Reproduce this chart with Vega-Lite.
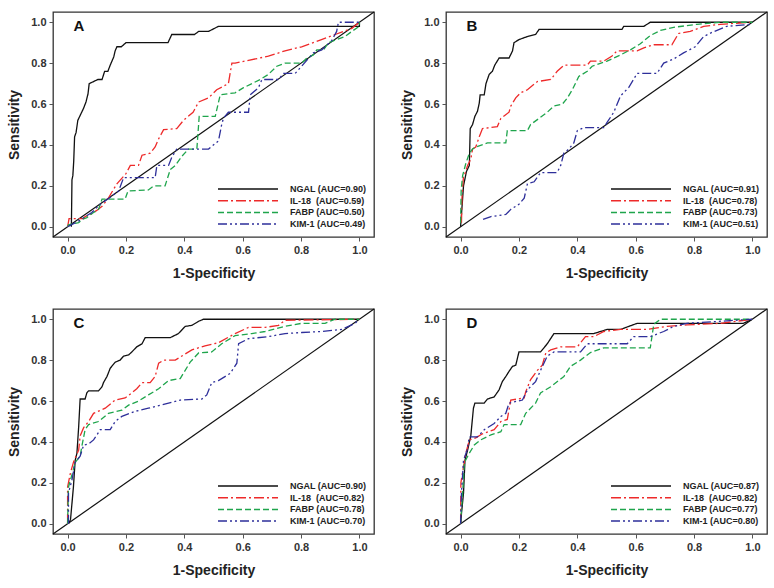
{
"$schema": "https://vega.github.io/schema/vega-lite/v6.json",
"padding": {"left": 7, "top": 10, "right": 5, "bottom": 5},
"background": "white",
"config": {
  "font": "Liberation Sans",
  "view": {"stroke": "#333", "strokeWidth": 1.3},
  "axis": {"domain": false, "grid": false, "labelFont": "Liberation Sans", "labelFontWeight": "bold", "labelFontSize": 11, "labelColor": "#333", "tickColor": "#555", "tickSize": 4, "titleFont": "Liberation Sans", "titleFontWeight": "bold", "titleFontSize": 14, "titleColor": "#222"},
  "axisX": {"titlePadding": 11, "labelPadding": 3},
  "axisY": {"titlePadding": 9, "labelPadding": 3},
  "legend": {"orient": "bottom-right", "offset": 7, "padding": 0, "title": null, "symbolType": "M-6,0H6", "symbolSize": 100, "symbolStrokeWidth": 1.5, "labelFont": "Liberation Sans", "labelFontWeight": "bold", "labelFontSize": 9, "labelColor": "#222", "labelOffset": 36, "rowPadding": 0.7}
},
"datasets": {
"A": [
{"m":"NGAL","x":0.013,"y":0},{"m":"NGAL","x":0.015,"y":0.23},{"m":"NGAL","x":0.018,"y":0.25},{"m":"NGAL","x":0.021,"y":0.32},{"m":"NGAL","x":0.024,"y":0.44},{"m":"NGAL","x":0.029,"y":0.46},{"m":"NGAL","x":0.035,"y":0.52},{"m":"NGAL","x":0.045,"y":0.55},{"m":"NGAL","x":0.055,"y":0.58},{"m":"NGAL","x":0.063,"y":0.61},{"m":"NGAL","x":0.07,"y":0.65},{"m":"NGAL","x":0.074,"y":0.7},{"m":"NGAL","x":0.089,"y":0.71},{"m":"NGAL","x":0.104,"y":0.72},{"m":"NGAL","x":0.118,"y":0.72},{"m":"NGAL","x":0.127,"y":0.76},{"m":"NGAL","x":0.138,"y":0.76},{"m":"NGAL","x":0.146,"y":0.79},{"m":"NGAL","x":0.158,"y":0.83},{"m":"NGAL","x":0.163,"y":0.86},{"m":"NGAL","x":0.169,"y":0.88},{"m":"NGAL","x":0.184,"y":0.88},{"m":"NGAL","x":0.2,"y":0.9},{"m":"NGAL","x":0.344,"y":0.9},{"m":"NGAL","x":0.357,"y":0.94},{"m":"NGAL","x":0.435,"y":0.94},{"m":"NGAL","x":0.449,"y":0.955},{"m":"NGAL","x":0.483,"y":0.955},{"m":"NGAL","x":0.517,"y":0.98},{"m":"NGAL","x":1,"y":0.98},{"m":"NGAL","x":1,"y":1},
{"m":"IL-18","x":0,"y":0},{"m":"IL-18","x":0.005,"y":0.04},{"m":"IL-18","x":0.055,"y":0.04},{"m":"IL-18","x":0.06,"y":0.05},{"m":"IL-18","x":0.078,"y":0.06},{"m":"IL-18","x":0.1,"y":0.08},{"m":"IL-18","x":0.118,"y":0.1},{"m":"IL-18","x":0.14,"y":0.14},{"m":"IL-18","x":0.152,"y":0.17},{"m":"IL-18","x":0.169,"y":0.21},{"m":"IL-18","x":0.2,"y":0.26},{"m":"IL-18","x":0.215,"y":0.3},{"m":"IL-18","x":0.243,"y":0.3},{"m":"IL-18","x":0.255,"y":0.35},{"m":"IL-18","x":0.283,"y":0.36},{"m":"IL-18","x":0.3,"y":0.39},{"m":"IL-18","x":0.312,"y":0.43},{"m":"IL-18","x":0.329,"y":0.475},{"m":"IL-18","x":0.374,"y":0.48},{"m":"IL-18","x":0.397,"y":0.52},{"m":"IL-18","x":0.43,"y":0.56},{"m":"IL-18","x":0.449,"y":0.61},{"m":"IL-18","x":0.483,"y":0.63},{"m":"IL-18","x":0.511,"y":0.67},{"m":"IL-18","x":0.551,"y":0.7},{"m":"IL-18","x":0.563,"y":0.8},{"m":"IL-18","x":0.574,"y":0.8},{"m":"IL-18","x":0.688,"y":0.834},{"m":"IL-18","x":0.745,"y":0.86},{"m":"IL-18","x":0.802,"y":0.88},{"m":"IL-18","x":0.87,"y":0.915},{"m":"IL-18","x":0.917,"y":0.94},{"m":"IL-18","x":0.974,"y":0.97},{"m":"IL-18","x":1,"y":1},
{"m":"FABP","x":0,"y":0},{"m":"FABP","x":0.003,"y":0.01},{"m":"FABP","x":0.038,"y":0.02},{"m":"FABP","x":0.049,"y":0.035},{"m":"FABP","x":0.066,"y":0.045},{"m":"FABP","x":0.089,"y":0.07},{"m":"FABP","x":0.106,"y":0.085},{"m":"FABP","x":0.118,"y":0.135},{"m":"FABP","x":0.197,"y":0.135},{"m":"FABP","x":0.207,"y":0.175},{"m":"FABP","x":0.277,"y":0.18},{"m":"FABP","x":0.295,"y":0.2},{"m":"FABP","x":0.334,"y":0.2},{"m":"FABP","x":0.352,"y":0.28},{"m":"FABP","x":0.369,"y":0.3},{"m":"FABP","x":0.392,"y":0.345},{"m":"FABP","x":0.414,"y":0.38},{"m":"FABP","x":0.443,"y":0.38},{"m":"FABP","x":0.451,"y":0.54},{"m":"FABP","x":0.506,"y":0.54},{"m":"FABP","x":0.523,"y":0.645},{"m":"FABP","x":0.574,"y":0.655},{"m":"FABP","x":0.603,"y":0.68},{"m":"FABP","x":0.66,"y":0.72},{"m":"FABP","x":0.688,"y":0.745},{"m":"FABP","x":0.717,"y":0.785},{"m":"FABP","x":0.745,"y":0.8},{"m":"FABP","x":0.802,"y":0.8},{"m":"FABP","x":0.82,"y":0.825},{"m":"FABP","x":0.842,"y":0.84},{"m":"FABP","x":0.854,"y":0.865},{"m":"FABP","x":0.877,"y":0.865},{"m":"FABP","x":0.894,"y":0.9},{"m":"FABP","x":0.95,"y":0.93},{"m":"FABP","x":0.974,"y":0.955},{"m":"FABP","x":1,"y":0.98},{"m":"FABP","x":1,"y":1},
{"m":"KIM-1","x":0,"y":0},{"m":"KIM-1","x":0.04,"y":0.03},{"m":"KIM-1","x":0.083,"y":0.07},{"m":"KIM-1","x":0.112,"y":0.11},{"m":"KIM-1","x":0.152,"y":0.15},{"m":"KIM-1","x":0.175,"y":0.175},{"m":"KIM-1","x":0.192,"y":0.24},{"m":"KIM-1","x":0.3,"y":0.24},{"m":"KIM-1","x":0.306,"y":0.3},{"m":"KIM-1","x":0.346,"y":0.3},{"m":"KIM-1","x":0.357,"y":0.34},{"m":"KIM-1","x":0.374,"y":0.38},{"m":"KIM-1","x":0.483,"y":0.38},{"m":"KIM-1","x":0.517,"y":0.42},{"m":"KIM-1","x":0.528,"y":0.5},{"m":"KIM-1","x":0.534,"y":0.53},{"m":"KIM-1","x":0.551,"y":0.56},{"m":"KIM-1","x":0.62,"y":0.56},{"m":"KIM-1","x":0.626,"y":0.645},{"m":"KIM-1","x":0.654,"y":0.68},{"m":"KIM-1","x":0.666,"y":0.72},{"m":"KIM-1","x":0.723,"y":0.72},{"m":"KIM-1","x":0.74,"y":0.75},{"m":"KIM-1","x":0.78,"y":0.75},{"m":"KIM-1","x":0.802,"y":0.785},{"m":"KIM-1","x":0.842,"y":0.85},{"m":"KIM-1","x":0.871,"y":0.865},{"m":"KIM-1","x":0.905,"y":0.91},{"m":"KIM-1","x":0.922,"y":0.955},{"m":"KIM-1","x":0.928,"y":1},{"m":"KIM-1","x":1,"y":1}
],
"B": [
{"m":"NGAL","x":0,"y":0},{"m":"NGAL","x":0.005,"y":0.1},{"m":"NGAL","x":0.01,"y":0.2},{"m":"NGAL","x":0.02,"y":0.27},{"m":"NGAL","x":0.03,"y":0.3},{"m":"NGAL","x":0.033,"y":0.48},{"m":"NGAL","x":0.041,"y":0.5},{"m":"NGAL","x":0.049,"y":0.54},{"m":"NGAL","x":0.058,"y":0.565},{"m":"NGAL","x":0.064,"y":0.605},{"m":"NGAL","x":0.067,"y":0.645},{"m":"NGAL","x":0.081,"y":0.645},{"m":"NGAL","x":0.087,"y":0.7},{"m":"NGAL","x":0.098,"y":0.745},{"m":"NGAL","x":0.109,"y":0.76},{"m":"NGAL","x":0.117,"y":0.79},{"m":"NGAL","x":0.132,"y":0.825},{"m":"NGAL","x":0.166,"y":0.825},{"m":"NGAL","x":0.178,"y":0.86},{"m":"NGAL","x":0.183,"y":0.9},{"m":"NGAL","x":0.2,"y":0.915},{"m":"NGAL","x":0.229,"y":0.93},{"m":"NGAL","x":0.257,"y":0.94},{"m":"NGAL","x":0.269,"y":0.965},{"m":"NGAL","x":0.553,"y":0.965},{"m":"NGAL","x":0.559,"y":0.98},{"m":"NGAL","x":0.628,"y":0.98},{"m":"NGAL","x":0.65,"y":1},{"m":"NGAL","x":1,"y":1},
{"m":"IL-18","x":0.003,"y":0.02},{"m":"IL-18","x":0.005,"y":0.15},{"m":"IL-18","x":0.01,"y":0.25},{"m":"IL-18","x":0.015,"y":0.26},{"m":"IL-18","x":0.024,"y":0.3},{"m":"IL-18","x":0.035,"y":0.33},{"m":"IL-18","x":0.041,"y":0.38},{"m":"IL-18","x":0.052,"y":0.39},{"m":"IL-18","x":0.064,"y":0.44},{"m":"IL-18","x":0.075,"y":0.48},{"m":"IL-18","x":0.126,"y":0.49},{"m":"IL-18","x":0.138,"y":0.53},{"m":"IL-18","x":0.166,"y":0.56},{"m":"IL-18","x":0.172,"y":0.59},{"m":"IL-18","x":0.189,"y":0.63},{"m":"IL-18","x":0.206,"y":0.655},{"m":"IL-18","x":0.229,"y":0.67},{"m":"IL-18","x":0.263,"y":0.71},{"m":"IL-18","x":0.309,"y":0.72},{"m":"IL-18","x":0.331,"y":0.76},{"m":"IL-18","x":0.354,"y":0.79},{"m":"IL-18","x":0.434,"y":0.79},{"m":"IL-18","x":0.445,"y":0.81},{"m":"IL-18","x":0.491,"y":0.81},{"m":"IL-18","x":0.519,"y":0.835},{"m":"IL-18","x":0.536,"y":0.86},{"m":"IL-18","x":0.605,"y":0.86},{"m":"IL-18","x":0.628,"y":0.875},{"m":"IL-18","x":0.662,"y":0.89},{"m":"IL-18","x":0.724,"y":0.89},{"m":"IL-18","x":0.747,"y":0.945},{"m":"IL-18","x":0.787,"y":0.955},{"m":"IL-18","x":0.833,"y":0.98},{"m":"IL-18","x":0.89,"y":0.99},{"m":"IL-18","x":1,"y":1},
{"m":"FABP","x":0,"y":0.02},{"m":"FABP","x":0.002,"y":0.18},{"m":"FABP","x":0.007,"y":0.25},{"m":"FABP","x":0.018,"y":0.31},{"m":"FABP","x":0.03,"y":0.36},{"m":"FABP","x":0.041,"y":0.38},{"m":"FABP","x":0.052,"y":0.39},{"m":"FABP","x":0.092,"y":0.41},{"m":"FABP","x":0.155,"y":0.41},{"m":"FABP","x":0.16,"y":0.47},{"m":"FABP","x":0.229,"y":0.47},{"m":"FABP","x":0.24,"y":0.5},{"m":"FABP","x":0.269,"y":0.53},{"m":"FABP","x":0.297,"y":0.56},{"m":"FABP","x":0.32,"y":0.59},{"m":"FABP","x":0.349,"y":0.6},{"m":"FABP","x":0.366,"y":0.63},{"m":"FABP","x":0.383,"y":0.67},{"m":"FABP","x":0.405,"y":0.735},{"m":"FABP","x":0.434,"y":0.76},{"m":"FABP","x":0.451,"y":0.785},{"m":"FABP","x":0.502,"y":0.81},{"m":"FABP","x":0.548,"y":0.84},{"m":"FABP","x":0.582,"y":0.865},{"m":"FABP","x":0.616,"y":0.895},{"m":"FABP","x":0.65,"y":0.935},{"m":"FABP","x":0.685,"y":0.96},{"m":"FABP","x":0.73,"y":0.975},{"m":"FABP","x":0.81,"y":0.99},{"m":"FABP","x":0.89,"y":1},{"m":"FABP","x":1,"y":1},
{"m":"KIM-1","x":0.077,"y":0.036},{"m":"KIM-1","x":0.104,"y":0.05},{"m":"KIM-1","x":0.155,"y":0.06},{"m":"KIM-1","x":0.172,"y":0.085},{"m":"KIM-1","x":0.2,"y":0.11},{"m":"KIM-1","x":0.218,"y":0.14},{"m":"KIM-1","x":0.229,"y":0.21},{"m":"KIM-1","x":0.252,"y":0.22},{"m":"KIM-1","x":0.274,"y":0.265},{"m":"KIM-1","x":0.331,"y":0.265},{"m":"KIM-1","x":0.343,"y":0.3},{"m":"KIM-1","x":0.354,"y":0.36},{"m":"KIM-1","x":0.371,"y":0.38},{"m":"KIM-1","x":0.388,"y":0.41},{"m":"KIM-1","x":0.4,"y":0.47},{"m":"KIM-1","x":0.423,"y":0.485},{"m":"KIM-1","x":0.491,"y":0.485},{"m":"KIM-1","x":0.502,"y":0.51},{"m":"KIM-1","x":0.525,"y":0.56},{"m":"KIM-1","x":0.548,"y":0.64},{"m":"KIM-1","x":0.576,"y":0.68},{"m":"KIM-1","x":0.605,"y":0.75},{"m":"KIM-1","x":0.673,"y":0.75},{"m":"KIM-1","x":0.696,"y":0.8},{"m":"KIM-1","x":0.73,"y":0.82},{"m":"KIM-1","x":0.764,"y":0.85},{"m":"KIM-1","x":0.804,"y":0.88},{"m":"KIM-1","x":0.833,"y":0.93},{"m":"KIM-1","x":0.861,"y":0.95},{"m":"KIM-1","x":0.912,"y":0.98},{"m":"KIM-1","x":1,"y":0.99}
],
"C": [
{"m":"NGAL","x":0.003,"y":0},{"m":"NGAL","x":0.01,"y":0.02},{"m":"NGAL","x":0.015,"y":0.1},{"m":"NGAL","x":0.02,"y":0.18},{"m":"NGAL","x":0.026,"y":0.31},{"m":"NGAL","x":0.032,"y":0.345},{"m":"NGAL","x":0.038,"y":0.475},{"m":"NGAL","x":0.043,"y":0.61},{"m":"NGAL","x":0.06,"y":0.61},{"m":"NGAL","x":0.066,"y":0.64},{"m":"NGAL","x":0.072,"y":0.65},{"m":"NGAL","x":0.106,"y":0.65},{"m":"NGAL","x":0.118,"y":0.67},{"m":"NGAL","x":0.123,"y":0.69},{"m":"NGAL","x":0.135,"y":0.72},{"m":"NGAL","x":0.146,"y":0.76},{"m":"NGAL","x":0.163,"y":0.79},{"m":"NGAL","x":0.18,"y":0.8},{"m":"NGAL","x":0.192,"y":0.82},{"m":"NGAL","x":0.209,"y":0.825},{"m":"NGAL","x":0.22,"y":0.84},{"m":"NGAL","x":0.237,"y":0.865},{"m":"NGAL","x":0.255,"y":0.88},{"m":"NGAL","x":0.266,"y":0.91},{"m":"NGAL","x":0.352,"y":0.91},{"m":"NGAL","x":0.38,"y":0.93},{"m":"NGAL","x":0.403,"y":0.965},{"m":"NGAL","x":0.426,"y":0.97},{"m":"NGAL","x":0.449,"y":0.99},{"m":"NGAL","x":0.466,"y":1},{"m":"NGAL","x":1,"y":1},
{"m":"IL-18","x":0,"y":0},{"m":"IL-18","x":0,"y":0.18},{"m":"IL-18","x":0.01,"y":0.25},{"m":"IL-18","x":0.021,"y":0.305},{"m":"IL-18","x":0.038,"y":0.36},{"m":"IL-18","x":0.043,"y":0.43},{"m":"IL-18","x":0.055,"y":0.47},{"m":"IL-18","x":0.072,"y":0.5},{"m":"IL-18","x":0.089,"y":0.54},{"m":"IL-18","x":0.129,"y":0.565},{"m":"IL-18","x":0.163,"y":0.605},{"m":"IL-18","x":0.197,"y":0.615},{"m":"IL-18","x":0.22,"y":0.64},{"m":"IL-18","x":0.237,"y":0.66},{"m":"IL-18","x":0.255,"y":0.69},{"m":"IL-18","x":0.283,"y":0.69},{"m":"IL-18","x":0.3,"y":0.72},{"m":"IL-18","x":0.312,"y":0.785},{"m":"IL-18","x":0.329,"y":0.8},{"m":"IL-18","x":0.369,"y":0.8},{"m":"IL-18","x":0.397,"y":0.825},{"m":"IL-18","x":0.426,"y":0.85},{"m":"IL-18","x":0.471,"y":0.87},{"m":"IL-18","x":0.517,"y":0.885},{"m":"IL-18","x":0.574,"y":0.93},{"m":"IL-18","x":0.62,"y":0.96},{"m":"IL-18","x":0.677,"y":0.96},{"m":"IL-18","x":0.723,"y":0.97},{"m":"IL-18","x":0.745,"y":0.995},{"m":"IL-18","x":1,"y":1},
{"m":"FABP","x":0,"y":0},{"m":"FABP","x":0.003,"y":0.18},{"m":"FABP","x":0.015,"y":0.24},{"m":"FABP","x":0.026,"y":0.3},{"m":"FABP","x":0.043,"y":0.33},{"m":"FABP","x":0.049,"y":0.38},{"m":"FABP","x":0.06,"y":0.46},{"m":"FABP","x":0.072,"y":0.485},{"m":"FABP","x":0.106,"y":0.5},{"m":"FABP","x":0.14,"y":0.54},{"m":"FABP","x":0.186,"y":0.555},{"m":"FABP","x":0.209,"y":0.58},{"m":"FABP","x":0.243,"y":0.6},{"m":"FABP","x":0.277,"y":0.63},{"m":"FABP","x":0.312,"y":0.66},{"m":"FABP","x":0.346,"y":0.7},{"m":"FABP","x":0.386,"y":0.71},{"m":"FABP","x":0.403,"y":0.75},{"m":"FABP","x":0.42,"y":0.79},{"m":"FABP","x":0.449,"y":0.835},{"m":"FABP","x":0.494,"y":0.84},{"m":"FABP","x":0.528,"y":0.88},{"m":"FABP","x":0.574,"y":0.92},{"m":"FABP","x":0.631,"y":0.93},{"m":"FABP","x":0.677,"y":0.94},{"m":"FABP","x":0.745,"y":0.965},{"m":"FABP","x":0.802,"y":0.98},{"m":"FABP","x":0.882,"y":0.98},{"m":"FABP","x":0.917,"y":1},{"m":"FABP","x":1,"y":1},
{"m":"KIM-1","x":0.003,"y":0},{"m":"KIM-1","x":0.003,"y":0.15},{"m":"KIM-1","x":0.015,"y":0.215},{"m":"KIM-1","x":0.026,"y":0.3},{"m":"KIM-1","x":0.043,"y":0.33},{"m":"KIM-1","x":0.055,"y":0.385},{"m":"KIM-1","x":0.072,"y":0.39},{"m":"KIM-1","x":0.089,"y":0.41},{"m":"KIM-1","x":0.112,"y":0.46},{"m":"KIM-1","x":0.146,"y":0.46},{"m":"KIM-1","x":0.163,"y":0.5},{"m":"KIM-1","x":0.186,"y":0.525},{"m":"KIM-1","x":0.232,"y":0.55},{"m":"KIM-1","x":0.277,"y":0.565},{"m":"KIM-1","x":0.346,"y":0.59},{"m":"KIM-1","x":0.386,"y":0.605},{"m":"KIM-1","x":0.46,"y":0.61},{"m":"KIM-1","x":0.477,"y":0.63},{"m":"KIM-1","x":0.494,"y":0.69},{"m":"KIM-1","x":0.517,"y":0.7},{"m":"KIM-1","x":0.557,"y":0.735},{"m":"KIM-1","x":0.58,"y":0.785},{"m":"KIM-1","x":0.586,"y":0.88},{"m":"KIM-1","x":0.62,"y":0.905},{"m":"KIM-1","x":0.688,"y":0.915},{"m":"KIM-1","x":0.745,"y":0.93},{"m":"KIM-1","x":0.802,"y":0.935},{"m":"KIM-1","x":0.871,"y":0.94},{"m":"KIM-1","x":0.94,"y":0.95},{"m":"KIM-1","x":0.985,"y":0.98},{"m":"KIM-1","x":1,"y":1}
],
"D": [
{"m":"NGAL","x":0.001,"y":0},{"m":"NGAL","x":0.003,"y":0.05},{"m":"NGAL","x":0.01,"y":0.15},{"m":"NGAL","x":0.015,"y":0.31},{"m":"NGAL","x":0.024,"y":0.36},{"m":"NGAL","x":0.035,"y":0.43},{"m":"NGAL","x":0.044,"y":0.565},{"m":"NGAL","x":0.049,"y":0.59},{"m":"NGAL","x":0.081,"y":0.59},{"m":"NGAL","x":0.092,"y":0.61},{"m":"NGAL","x":0.115,"y":0.62},{"m":"NGAL","x":0.132,"y":0.655},{"m":"NGAL","x":0.143,"y":0.695},{"m":"NGAL","x":0.155,"y":0.72},{"m":"NGAL","x":0.166,"y":0.745},{"m":"NGAL","x":0.178,"y":0.77},{"m":"NGAL","x":0.189,"y":0.775},{"m":"NGAL","x":0.2,"y":0.84},{"m":"NGAL","x":0.274,"y":0.84},{"m":"NGAL","x":0.297,"y":0.88},{"m":"NGAL","x":0.32,"y":0.93},{"m":"NGAL","x":0.457,"y":0.93},{"m":"NGAL","x":0.502,"y":0.95},{"m":"NGAL","x":0.548,"y":0.95},{"m":"NGAL","x":0.605,"y":0.98},{"m":"NGAL","x":0.969,"y":0.98},{"m":"NGAL","x":1,"y":1},
{"m":"IL-18","x":0,"y":0},{"m":"IL-18","x":0.001,"y":0.2},{"m":"IL-18","x":0.01,"y":0.28},{"m":"IL-18","x":0.018,"y":0.345},{"m":"IL-18","x":0.03,"y":0.41},{"m":"IL-18","x":0.052,"y":0.42},{"m":"IL-18","x":0.075,"y":0.44},{"m":"IL-18","x":0.115,"y":0.46},{"m":"IL-18","x":0.138,"y":0.5},{"m":"IL-18","x":0.16,"y":0.51},{"m":"IL-18","x":0.172,"y":0.605},{"m":"IL-18","x":0.218,"y":0.615},{"m":"IL-18","x":0.223,"y":0.645},{"m":"IL-18","x":0.24,"y":0.705},{"m":"IL-18","x":0.263,"y":0.75},{"m":"IL-18","x":0.28,"y":0.775},{"m":"IL-18","x":0.292,"y":0.835},{"m":"IL-18","x":0.309,"y":0.85},{"m":"IL-18","x":0.343,"y":0.865},{"m":"IL-18","x":0.4,"y":0.865},{"m":"IL-18","x":0.428,"y":0.915},{"m":"IL-18","x":0.457,"y":0.915},{"m":"IL-18","x":0.491,"y":0.94},{"m":"IL-18","x":0.548,"y":0.95},{"m":"IL-18","x":0.639,"y":0.95},{"m":"IL-18","x":0.707,"y":0.965},{"m":"IL-18","x":0.776,"y":0.972},{"m":"IL-18","x":0.89,"y":0.98},{"m":"IL-18","x":1,"y":1},
{"m":"FABP","x":0,"y":0},{"m":"FABP","x":0.007,"y":0.15},{"m":"FABP","x":0.013,"y":0.3},{"m":"FABP","x":0.03,"y":0.345},{"m":"FABP","x":0.047,"y":0.385},{"m":"FABP","x":0.069,"y":0.41},{"m":"FABP","x":0.104,"y":0.435},{"m":"FABP","x":0.138,"y":0.45},{"m":"FABP","x":0.149,"y":0.485},{"m":"FABP","x":0.206,"y":0.485},{"m":"FABP","x":0.223,"y":0.54},{"m":"FABP","x":0.257,"y":0.59},{"m":"FABP","x":0.274,"y":0.64},{"m":"FABP","x":0.309,"y":0.67},{"m":"FABP","x":0.354,"y":0.72},{"m":"FABP","x":0.377,"y":0.77},{"m":"FABP","x":0.411,"y":0.8},{"m":"FABP","x":0.445,"y":0.837},{"m":"FABP","x":0.491,"y":0.86},{"m":"FABP","x":0.65,"y":0.86},{"m":"FABP","x":0.662,"y":0.975},{"m":"FABP","x":0.685,"y":1},{"m":"FABP","x":1,"y":1},
{"m":"KIM-1","x":0,"y":0},{"m":"KIM-1","x":0.003,"y":0.15},{"m":"KIM-1","x":0.01,"y":0.31},{"m":"KIM-1","x":0.022,"y":0.36},{"m":"KIM-1","x":0.03,"y":0.425},{"m":"KIM-1","x":0.058,"y":0.425},{"m":"KIM-1","x":0.081,"y":0.46},{"m":"KIM-1","x":0.115,"y":0.49},{"m":"KIM-1","x":0.138,"y":0.525},{"m":"KIM-1","x":0.155,"y":0.54},{"m":"KIM-1","x":0.166,"y":0.59},{"m":"KIM-1","x":0.212,"y":0.605},{"m":"KIM-1","x":0.229,"y":0.655},{"m":"KIM-1","x":0.257,"y":0.695},{"m":"KIM-1","x":0.274,"y":0.75},{"m":"KIM-1","x":0.297,"y":0.82},{"m":"KIM-1","x":0.32,"y":0.84},{"m":"KIM-1","x":0.411,"y":0.84},{"m":"KIM-1","x":0.434,"y":0.88},{"m":"KIM-1","x":0.571,"y":0.88},{"m":"KIM-1","x":0.593,"y":0.915},{"m":"KIM-1","x":0.65,"y":0.915},{"m":"KIM-1","x":0.696,"y":0.94},{"m":"KIM-1","x":0.73,"y":0.965},{"m":"KIM-1","x":0.776,"y":0.98},{"m":"KIM-1","x":0.89,"y":0.99},{"m":"KIM-1","x":1,"y":1}
]
},
"columns": 2,
"bounds": "flush",
"spacing": {"row": 72, "column": 72},
"resolve": {"scale": {"color": "independent", "strokeDash": "independent"}, "legend": {"color": "independent", "strokeDash": "independent"}},
"concat": [
{"width": 321, "height": 225,
 "layer": [
  {"data": {"values": [{}]}, "mark": {"type": "rule", "color": "#111", "strokeWidth": 1.2}, "encoding": {"x": {"datum": -0.05, "type": "quantitative", "scale": {"domain": [-0.05, 1.05], "nice": false, "zero": false}}, "y": {"datum": -0.05, "type": "quantitative", "scale": {"domain": [-0.05, 1.05], "nice": false, "zero": false}}, "x2": {"datum": 1.05}, "y2": {"datum": 1.05}}},
  {"data": {"name": "A"}, "mark": {"type": "line", "strokeWidth": 1.3, "clip": true},
   "encoding": {
    "x": {"field": "x", "type": "quantitative", "title": "1-Specificity", "axis": {"values": [0, 0.2, 0.4, 0.6, 0.8, 1.0], "format": ".1f"}},
    "y": {"field": "y", "type": "quantitative", "title": "Sensitivity", "axis": {"values": [0, 0.2, 0.4, 0.6, 0.8, 1.0], "format": ".1f"}},
    "color": {"field": "m", "type": "nominal", "scale": {"domain": ["NGAL", "IL-18", "FABP", "KIM-1"], "range": ["#111111", "#ee2a2a", "#1fa54c", "#2e2f9a"]}, "legend": {"labelExpr": "datum.label == 'NGAL' ? 'NGAL (AUC=0.90)' : datum.label == 'IL-18' ? 'IL-18\u00a0 (AUC=0.59)' : datum.label == 'FABP' ? 'FABP (AUC=0.50)' : 'KIM-1 (AUC=0.49)'"}},
    "strokeDash": {"field": "m", "type": "nominal", "scale": {"domain": ["NGAL", "IL-18", "FABP", "KIM-1"], "range": [[1, 0], [10, 3, 2, 3], [6, 3], [9, 3, 2, 3, 2, 3]]}, "legend": {"labelExpr": "datum.label == 'NGAL' ? 'NGAL (AUC=0.90)' : datum.label == 'IL-18' ? 'IL-18\u00a0 (AUC=0.59)' : datum.label == 'FABP' ? 'FABP (AUC=0.50)' : 'KIM-1 (AUC=0.49)'"}},
    "order": {"value": null}}},
  {"data": {"values": [{}]}, "mark": {"type": "text", "fontSize": 15, "fontWeight": "bold", "align": "left", "baseline": "middle", "color": "#111"}, "encoding": {"x": {"datum": 0.02}, "y": {"datum": 0.98}, "text": {"value": "A"}}}
 ]},
{"width": 321, "height": 225,
 "layer": [
  {"data": {"values": [{}]}, "mark": {"type": "rule", "color": "#111", "strokeWidth": 1.2}, "encoding": {"x": {"datum": -0.05, "type": "quantitative", "scale": {"domain": [-0.05, 1.05], "nice": false, "zero": false}}, "y": {"datum": -0.05, "type": "quantitative", "scale": {"domain": [-0.05, 1.05], "nice": false, "zero": false}}, "x2": {"datum": 1.05}, "y2": {"datum": 1.05}}},
  {"data": {"name": "B"}, "mark": {"type": "line", "strokeWidth": 1.3, "clip": true},
   "encoding": {
    "x": {"field": "x", "type": "quantitative", "title": "1-Specificity", "axis": {"values": [0, 0.2, 0.4, 0.6, 0.8, 1.0], "format": ".1f"}},
    "y": {"field": "y", "type": "quantitative", "title": "Sensitivity", "axis": {"values": [0, 0.2, 0.4, 0.6, 0.8, 1.0], "format": ".1f"}},
    "color": {"field": "m", "type": "nominal", "scale": {"domain": ["NGAL", "IL-18", "FABP", "KIM-1"], "range": ["#111111", "#ee2a2a", "#1fa54c", "#2e2f9a"]}, "legend": {"labelExpr": "datum.label == 'NGAL' ? 'NGAL (AUC=0.91)' : datum.label == 'IL-18' ? 'IL-18\u00a0 (AUC=0.78)' : datum.label == 'FABP' ? 'FABP (AUC=0.73)' : 'KIM-1 (AUC=0.51)'"}},
    "strokeDash": {"field": "m", "type": "nominal", "scale": {"domain": ["NGAL", "IL-18", "FABP", "KIM-1"], "range": [[1, 0], [10, 3, 2, 3], [6, 3], [9, 3, 2, 3, 2, 3]]}, "legend": {"labelExpr": "datum.label == 'NGAL' ? 'NGAL (AUC=0.91)' : datum.label == 'IL-18' ? 'IL-18\u00a0 (AUC=0.78)' : datum.label == 'FABP' ? 'FABP (AUC=0.73)' : 'KIM-1 (AUC=0.51)'"}},
    "order": {"value": null}}},
  {"data": {"values": [{}]}, "mark": {"type": "text", "fontSize": 15, "fontWeight": "bold", "align": "left", "baseline": "middle", "color": "#111"}, "encoding": {"x": {"datum": 0.02}, "y": {"datum": 0.98}, "text": {"value": "B"}}}
 ]},
{"width": 321, "height": 225,
 "layer": [
  {"data": {"values": [{}]}, "mark": {"type": "rule", "color": "#111", "strokeWidth": 1.2}, "encoding": {"x": {"datum": -0.05, "type": "quantitative", "scale": {"domain": [-0.05, 1.05], "nice": false, "zero": false}}, "y": {"datum": -0.05, "type": "quantitative", "scale": {"domain": [-0.05, 1.05], "nice": false, "zero": false}}, "x2": {"datum": 1.05}, "y2": {"datum": 1.05}}},
  {"data": {"name": "C"}, "mark": {"type": "line", "strokeWidth": 1.3, "clip": true},
   "encoding": {
    "x": {"field": "x", "type": "quantitative", "title": "1-Specificity", "axis": {"values": [0, 0.2, 0.4, 0.6, 0.8, 1.0], "format": ".1f"}},
    "y": {"field": "y", "type": "quantitative", "title": "Sensitivity", "axis": {"values": [0, 0.2, 0.4, 0.6, 0.8, 1.0], "format": ".1f"}},
    "color": {"field": "m", "type": "nominal", "scale": {"domain": ["NGAL", "IL-18", "FABP", "KIM-1"], "range": ["#111111", "#ee2a2a", "#1fa54c", "#2e2f9a"]}, "legend": {"labelExpr": "datum.label == 'NGAL' ? 'NGAL (AUC=0.90)' : datum.label == 'IL-18' ? 'IL-18\u00a0 (AUC=0.82)' : datum.label == 'FABP' ? 'FABP (AUC=0.78)' : 'KIM-1 (AUC=0.70)'"}},
    "strokeDash": {"field": "m", "type": "nominal", "scale": {"domain": ["NGAL", "IL-18", "FABP", "KIM-1"], "range": [[1, 0], [10, 3, 2, 3], [6, 3], [9, 3, 2, 3, 2, 3]]}, "legend": {"labelExpr": "datum.label == 'NGAL' ? 'NGAL (AUC=0.90)' : datum.label == 'IL-18' ? 'IL-18\u00a0 (AUC=0.82)' : datum.label == 'FABP' ? 'FABP (AUC=0.78)' : 'KIM-1 (AUC=0.70)'"}},
    "order": {"value": null}}},
  {"data": {"values": [{}]}, "mark": {"type": "text", "fontSize": 15, "fontWeight": "bold", "align": "left", "baseline": "middle", "color": "#111"}, "encoding": {"x": {"datum": 0.02}, "y": {"datum": 0.98}, "text": {"value": "C"}}}
 ]},
{"width": 321, "height": 225,
 "layer": [
  {"data": {"values": [{}]}, "mark": {"type": "rule", "color": "#111", "strokeWidth": 1.2}, "encoding": {"x": {"datum": -0.05, "type": "quantitative", "scale": {"domain": [-0.05, 1.05], "nice": false, "zero": false}}, "y": {"datum": -0.05, "type": "quantitative", "scale": {"domain": [-0.05, 1.05], "nice": false, "zero": false}}, "x2": {"datum": 1.05}, "y2": {"datum": 1.05}}},
  {"data": {"name": "D"}, "mark": {"type": "line", "strokeWidth": 1.3, "clip": true},
   "encoding": {
    "x": {"field": "x", "type": "quantitative", "title": "1-Specificity", "axis": {"values": [0, 0.2, 0.4, 0.6, 0.8, 1.0], "format": ".1f"}},
    "y": {"field": "y", "type": "quantitative", "title": "Sensitivity", "axis": {"values": [0, 0.2, 0.4, 0.6, 0.8, 1.0], "format": ".1f"}},
    "color": {"field": "m", "type": "nominal", "scale": {"domain": ["NGAL", "IL-18", "FABP", "KIM-1"], "range": ["#111111", "#ee2a2a", "#1fa54c", "#2e2f9a"]}, "legend": {"labelExpr": "datum.label == 'NGAL' ? 'NGAL (AUC=0.87)' : datum.label == 'IL-18' ? 'IL-18\u00a0 (AUC=0.82)' : datum.label == 'FABP' ? 'FABP (AUC=0.77)' : 'KIM-1 (AUC=0.80)'"}},
    "strokeDash": {"field": "m", "type": "nominal", "scale": {"domain": ["NGAL", "IL-18", "FABP", "KIM-1"], "range": [[1, 0], [10, 3, 2, 3], [6, 3], [9, 3, 2, 3, 2, 3]]}, "legend": {"labelExpr": "datum.label == 'NGAL' ? 'NGAL (AUC=0.87)' : datum.label == 'IL-18' ? 'IL-18\u00a0 (AUC=0.82)' : datum.label == 'FABP' ? 'FABP (AUC=0.77)' : 'KIM-1 (AUC=0.80)'"}},
    "order": {"value": null}}},
  {"data": {"values": [{}]}, "mark": {"type": "text", "fontSize": 15, "fontWeight": "bold", "align": "left", "baseline": "middle", "color": "#111"}, "encoding": {"x": {"datum": 0.02}, "y": {"datum": 0.98}, "text": {"value": "D"}}}
 ]}
]
}
